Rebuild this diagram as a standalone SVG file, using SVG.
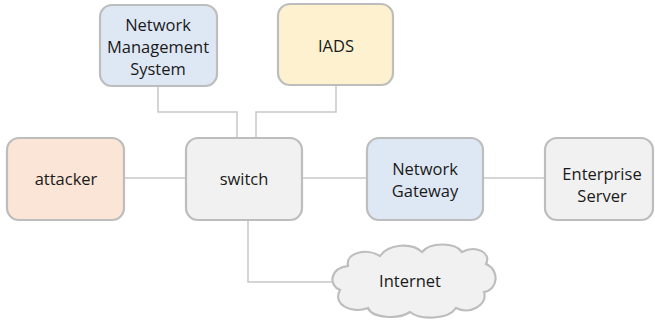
<svg xmlns="http://www.w3.org/2000/svg" width="655" height="321" viewBox="0 0 655 321">
  <style>
    .box { stroke: #bdbdbd; stroke-width: 2.2; }
    .blue { fill: #dee8f5; }
    .yellow { fill: #fdf1d0; }
    .peach { fill: #fbe5d6; }
    .grey { fill: #f1f1f1; }
    .link { fill: none; stroke: #c8c8c8; stroke-width: 1.5; }
    text { font-family: "Open Sans", "Noto Sans", sans-serif; font-size: 16.5px; fill: #1a1a1a; text-anchor: middle; }
  </style>
  <rect width="655" height="321" fill="#ffffff"/>

  <g id="connectors">
    <polyline class="link" points="158,86 158,112 237,112 237,138"/>
    <polyline class="link" points="336,85 336,112 256,112 256,138"/>
    <line class="link" x1="124" y1="178" x2="186" y2="178"/>
    <line class="link" x1="302" y1="178" x2="367" y2="178"/>
    <line class="link" x1="483" y1="178" x2="545" y2="178"/>
    <polyline class="link" points="248,220 248,282 334,282"/>
  </g>

  <g id="nms">
    <rect class="box blue" x="100" y="5" width="117" height="81" rx="12"/>
    <text x="158" y="31">Network</text>
    <text x="158" y="53">Management</text>
    <text x="158" y="75">System</text>
  </g>

  <g id="iads">
    <rect class="box yellow" x="278" y="4" width="115" height="81" rx="12"/>
    <text x="336" y="52">IADS</text>
  </g>

  <g id="attacker">
    <rect class="box peach" x="7" y="138" width="117" height="82" rx="12"/>
    <text x="66" y="185">attacker</text>
  </g>

  <g id="switch">
    <rect class="box grey" x="186" y="138" width="116" height="82" rx="12"/>
    <text x="244" y="185">switch</text>
  </g>

  <g id="gateway">
    <rect class="box blue" x="367" y="138" width="116" height="82" rx="12"/>
    <text x="425" y="175">Network</text>
    <text x="425" y="197">Gateway</text>
  </g>

  <g id="server">
    <rect class="box grey" x="545" y="138" width="108" height="82" rx="12"/>
    <text x="602" y="180">Enterprise</text>
    <text x="602" y="202">Server</text>
  </g>

  <g id="internet">
    <path class="box grey" d="M340,290 C328,285 330,268 348,266 C345,252 368,248 380,256 C388,244 412,242 422,252 C430,242 455,242 462,252 C475,245 492,252 486,264 C500,270 498,290 484,292 C488,305 470,315 456,308 C448,320 420,320 410,312 C398,320 372,318 368,308 C352,314 332,305 340,290 Z"/>
    <text x="410" y="287">Internet</text>
  </g>
</svg>
